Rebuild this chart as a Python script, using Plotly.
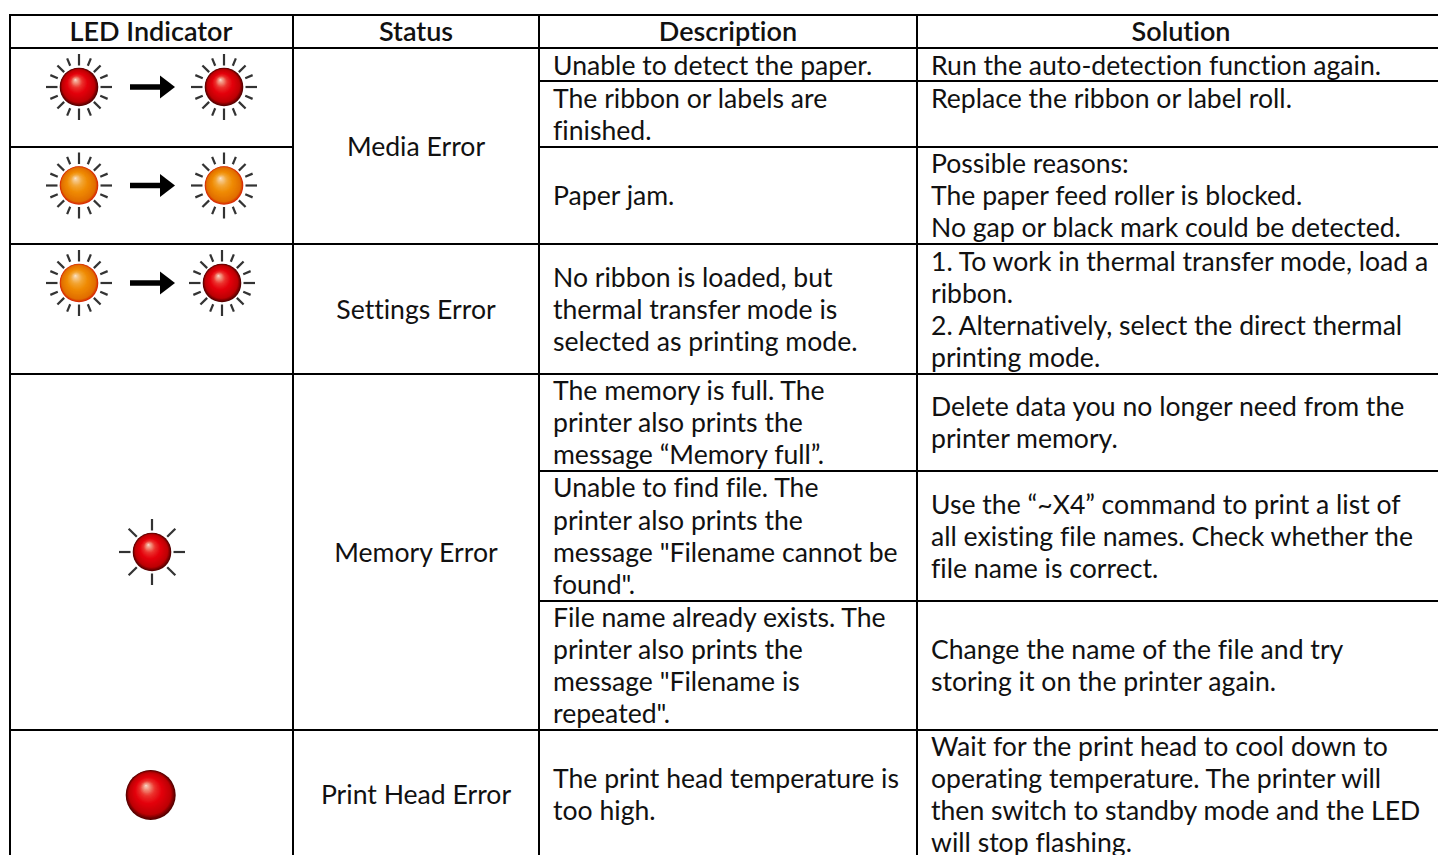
import math
import plotly.graph_objects as go

FONT = "Lato"
HEADERS = ["LED Indicator", "Status", "Description", "Solution"]
STATUSES = ["Media Error", "Settings Error", "Memory Error", "Print Head Error"]
DESCRIPTIONS = [
    ["Unable to detect the paper."],
    ["The ribbon or labels are", "finished."],
    ["Paper jam."],
    ["No ribbon is loaded, but", "thermal transfer mode is", "selected as printing mode."],
    ["The memory is full. The", "printer also prints the", "message “Memory full”."],
    ["Unable to find file. The", "printer also prints the", "message \"Filename cannot be", "found\"."],
    ["File name already exists. The", "printer also prints the", "message \"Filename is", "repeated\"."],
    ["The print head temperature is", "too high."],
]
SOLUTIONS = [
    ["Run the auto-detection function again."],
    ["Replace the ribbon or label roll."],
    ["Possible reasons:", "The paper feed roller is blocked.", "No gap or black mark could be detected."],
    ["1. To work in thermal transfer mode, load a", "ribbon.", "2. Alternatively, select the direct thermal", "printing mode."],
    ["Delete data you no longer need from the", "printer memory."],
    ["Use the “~X4” command to print a list of", "all existing file names. Check whether the", "file name is correct."],
    ["Change the name of the file and try", "storing it on the printer again."],
    ["Wait for the print head to cool down to", "operating temperature. The printer will", "then switch to standby mode and the LED", "will stop flashing."],
]

# page layout (pixel grid of the table)
W, H = 1438, 855
COLS = [10, 293, 539, 917]
HEAD_X = [151, 416, 728, 1181]
TEXT_DY = 2.5
STATUS_Y = [147, 310, 553, 795]
DESC_Y = [66, 115, 196, 310, 423, 536.5, 666, 795]
SOL_Y = [66, 99, 196, 310, 423, 536.5, 666, 795]
LEADING = 32.1
FS = 26.6
H_FULL = [15, 48, 244, 374, 730]
H_LEFT = [147]
H_RIGHT = [81, 147, 471, 601]

fig = go.Figure()

# grid
lx, ly = [], []
def seg(x0, y0, x1, y1):
    lx.extend([x0, x1, None]); ly.extend([y0, y1, None])
for x in COLS:
    seg(x, 14, x, H)
for y in H_FULL:
    seg(9, y, W, y)
for y in H_LEFT:
    seg(10, y, 293, y)
for y in H_RIGHT:
    seg(539, y, W, y)
fig.add_trace(go.Scatter(x=lx, y=ly, mode="lines", line=dict(color="#000", width=2), hoverinfo="skip"))

def text(xs, ys, ts, pos, bold=False):
    fig.add_trace(go.Scatter(x=xs, y=[v + TEXT_DY for v in ys], text=ts, mode="text", textposition=pos, cliponaxis=False,
                             textfont=dict(family=FONT, size=27 if bold else FS, color="#111", weight=600 if bold else 400),
                             hoverinfo="skip"))

text(HEAD_X, [32] * 4, HEADERS, "middle center", True)
text([416] * 4, STATUS_Y, STATUSES, "middle center")

def block(cells, centers, x):
    xs, ys, ts = [], [], []
    for lines, c in zip(cells, centers):
        n = len(lines)
        for i, t in enumerate(lines):
            xs.append(x); ys.append(c + LEADING * (i - (n - 1) / 2)); ts.append(t)
    text(xs, ys, ts, "middle right")

block(DESCRIPTIONS, DESC_Y, 553)
block(SOLUTIONS, SOL_Y, 931)

# LED icons
def lerp(a, b, t):
    return tuple(a[i] + (b[i] - a[i]) * t for i in range(3))

def rgb(c):
    return "rgb(%d,%d,%d)" % c

RED = [(0.0, (85, 0, 0)), (0.14, (190, 0, 5)), (0.45, (228, 0, 12)), (0.68, (236, 50, 45)), (0.85, (242, 140, 120)), (1.0, (250, 225, 210))]
ORANGE = [(0.0, (215, 40, 5)), (0.10, (225, 110, 0)), (0.45, (240, 140, 5)), (0.68, (243, 165, 50)), (0.85, (246, 195, 125)), (1.0, (250, 232, 210))]

def ramp(stops, t):
    for (t0, c0), (t1, c1) in zip(stops, stops[1:]):
        if t <= t1:
            return lerp(c0, c1, (t - t0) / (t1 - t0))
    return stops[-1][1]

def ball(cx, cy, r, stops):
    n = 30
    xs, ys, ss, cs = [], [], [], []
    hx, hy = cx - 0.19 * r, cy - 0.38 * r
    for k in range(n):
        t = k / (n - 1)
        xs.append(cx + (hx - cx) * t)
        ys.append(cy + (hy - cy) * t)
        ss.append(max(2 * r * (1 - t), 1))
        cs.append(rgb(tuple(int(v) for v in ramp(stops, t))))
    fig.add_trace(go.Scatter(x=xs, y=ys, mode="markers", hoverinfo="skip",
                             marker=dict(size=ss, color=cs, line=dict(width=0), opacity=1)))

def rays(cx, cy, count, r0, r1):
    lx, ly = [], []
    for k in range(count):
        a = 2 * math.pi * k / count
        near, far = r0, r1
        if count == 16:
            if k % 4 == 2:
                near, far = r0 - 0.5, r1 - 2.5
            elif k % 2 == 1:
                near, far = r0 + 1.5, r1 - 2
        lx += [cx + near * math.cos(a), cx + far * math.cos(a), None]
        ly += [cy + near * math.sin(a), cy + far * math.sin(a), None]
    fig.add_trace(go.Scatter(x=lx, y=ly, mode="lines", line=dict(color="#333", width=2.2), hoverinfo="skip"))

def flash(cx, cy, stops, count=16):
    rays(cx, cy, count, 21.5, 33)
    ball(cx, cy, 19.3, stops)

def arrow(x0, x1, y):
    fig.add_trace(go.Scatter(x=[x0, x1 - 12], y=[y, y], mode="lines", line=dict(color="#000", width=5.5), hoverinfo="skip"))
    fig.add_trace(go.Scatter(x=[x1 - 7], y=[y], mode="markers", hoverinfo="skip",
                             marker=dict(symbol="triangle-right", size=20, color="#000", line=dict(width=0))))

flash(79, 87, RED); flash(224, 87, RED); arrow(130, 172, 87)
flash(79, 185.5, ORANGE); flash(224, 185.5, ORANGE); arrow(130, 172, 185.5)
flash(79, 283, ORANGE); flash(222, 283, RED); arrow(130, 172, 283)
flash(152, 552, RED, 8)
ball(150.7, 795, 25, RED)

fig.update_layout(width=W, height=H, autosize=False, margin=dict(l=0, r=0, t=0, b=0), showlegend=False,
                  paper_bgcolor="white", plot_bgcolor="white", hovermode=False,
                  xaxis=dict(range=[0, W], visible=False, fixedrange=True),
                  yaxis=dict(range=[H, 0], visible=False, fixedrange=True))
POST = """
var s=document.createElement('style');
s.textContent='html,body{margin:0;padding:0;overflow:hidden} svg text{font-variant-ligatures:none;font-feature-settings:"liga" 0,"clig" 0}';
document.head.appendChild(s);
"""
fig.write_html("out.html", config={"displayModeBar": False}, include_plotlyjs=True,
               default_width=W, default_height=H, post_script=POST)
